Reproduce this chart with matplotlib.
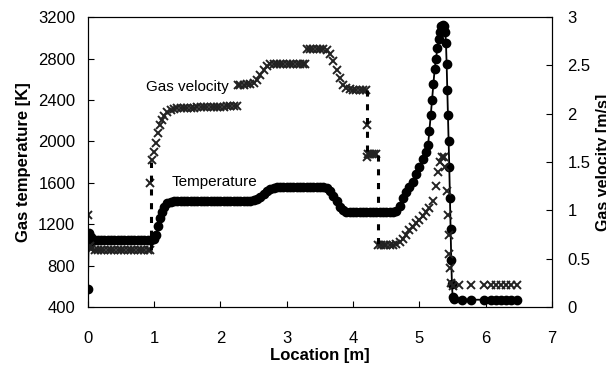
import matplotlib.pyplot as plt

plt.rcParams['font.family'] = ['Liberation Sans', 'DejaVu Sans']

# temperature profile [K] along the reactor
temp_x = [0.00, 0.01, 0.02, 0.04, 0.06, 0.10, 0.15, 0.20, 0.25, 0.30, 0.35, 0.40, 0.45,
          0.50, 0.55, 0.60, 0.65, 0.70, 0.75, 0.80, 0.85, 0.90, 0.95, 1.00, 1.03, 1.06,
          1.09, 1.12, 1.15, 1.20, 1.25, 1.30, 1.35, 1.40, 1.45, 1.50, 1.55, 1.60, 1.65,
          1.70, 1.75, 1.80, 1.85, 1.90, 1.95, 2.00, 2.05, 2.10, 2.15, 2.20, 2.25, 2.30,
          2.35, 2.40, 2.45, 2.50, 2.55, 2.60, 2.65, 2.70, 2.75, 2.80, 2.85, 2.90, 2.95,
          3.00, 3.05, 3.10, 3.15, 3.20, 3.25, 3.30, 3.35, 3.40, 3.45, 3.50, 3.55, 3.60,
          3.65, 3.70, 3.75, 3.80, 3.85, 3.90, 3.95, 4.00, 4.05, 4.10, 4.15, 4.20, 4.25,
          4.30, 4.35, 4.40, 4.45, 4.50, 4.55, 4.60, 4.65, 4.70, 4.75, 4.80, 4.85, 4.90,
          4.95, 5.00, 5.05, 5.10, 5.13, 5.15, 5.17, 5.19, 5.21, 5.23, 5.25, 5.27, 5.29,
          5.31, 5.33, 5.35, 5.37, 5.39, 5.40, 5.41, 5.42, 5.43, 5.44, 5.45, 5.46, 5.47,
          5.48, 5.49, 5.50, 5.52, 5.64, 5.78, 5.97, 6.08, 6.15, 6.23, 6.30, 6.38, 6.47]
temp_y = [574, 1000, 1110, 1080, 1050, 1045, 1045, 1045, 1045, 1045, 1045, 1045, 1045,
          1047, 1047, 1047, 1047, 1047, 1047, 1047, 1047, 1048, 1050, 1055, 1100, 1180,
          1260, 1320, 1370, 1400, 1415, 1420, 1425, 1425, 1425, 1425, 1425, 1425, 1425,
          1425, 1425, 1425, 1425, 1425, 1425, 1425, 1425, 1425, 1425, 1425, 1425, 1425,
          1425, 1425, 1428, 1432, 1440, 1460, 1490, 1520, 1540, 1550, 1555, 1555, 1555,
          1555, 1555, 1555, 1555, 1555, 1555, 1555, 1555, 1555, 1555, 1555, 1555, 1545,
          1520, 1470, 1420, 1370, 1335, 1320, 1315, 1315, 1315, 1315, 1315, 1315, 1315,
          1315, 1315, 1315, 1315, 1315, 1315, 1315, 1330, 1380, 1450, 1510, 1560, 1610,
          1680, 1750, 1830, 1900, 1960, 2100, 2250, 2400, 2550, 2700, 2800, 2900, 2990,
          3060, 3110, 3120, 3110, 3060, 2950, 2750, 2500, 2250, 2000, 1750, 1450, 1150,
          850, 620, 500, 480, 472, 470, 470, 470, 470, 470, 470, 470, 470]

# gas velocity [m/s]
vel_x = [0.00, 0.01, 0.03, 0.05, 0.10, 0.15, 0.20, 0.25, 0.30, 0.35, 0.40, 0.45, 0.50,
         0.55, 0.60, 0.65, 0.70, 0.75, 0.80, 0.85, 0.90, 0.93, 0.94, 0.97, 1.00, 1.03,
         1.06, 1.09, 1.12, 1.15, 1.20, 1.25, 1.30, 1.35, 1.40, 1.45, 1.50, 1.55, 1.60,
         1.65, 1.70, 1.75, 1.80, 1.85, 1.90, 1.95, 2.00, 2.05, 2.10, 2.15, 2.20, 2.25,
         2.27, 2.30, 2.35, 2.40, 2.45, 2.50, 2.55, 2.60, 2.65, 2.70, 2.75, 2.80, 2.85,
         2.90, 2.95, 3.00, 3.05, 3.10, 3.15, 3.20, 3.25, 3.28, 3.30, 3.35, 3.40, 3.45,
         3.50, 3.55, 3.60, 3.65, 3.70, 3.75, 3.80, 3.85, 3.90, 3.95, 4.00, 4.05, 4.10,
         4.15, 4.20, 4.21, 4.21, 4.23, 4.26, 4.29, 4.32, 4.35, 4.38, 4.42, 4.46, 4.50,
         4.55, 4.60, 4.65, 4.70, 4.75, 4.80, 4.85, 4.90, 4.95, 5.00, 5.05, 5.10, 5.15,
         5.20, 5.25, 5.28, 5.31, 5.34, 5.37, 5.39, 5.41, 5.43, 5.44, 5.45, 5.46, 5.48,
         5.50, 5.60, 5.78, 5.97, 6.08, 6.15, 6.23, 6.30, 6.38, 6.47]
vel_y = [0.95, 0.62, 0.63, 0.60, 0.59, 0.59, 0.59, 0.59, 0.59, 0.59, 0.59, 0.59, 0.59,
         0.59, 0.59, 0.59, 0.59, 0.59, 0.59, 0.59, 0.59, 0.59, 1.28, 1.52, 1.60, 1.70,
         1.80, 1.88, 1.94, 1.98, 2.02, 2.04, 2.05, 2.06, 2.06, 2.06, 2.06, 2.06, 2.06,
         2.07, 2.07, 2.07, 2.07, 2.07, 2.07, 2.07, 2.07, 2.07, 2.08, 2.08, 2.08, 2.08,
         2.30, 2.30, 2.30, 2.31, 2.31, 2.32, 2.35, 2.40, 2.45, 2.49, 2.51, 2.52, 2.52,
         2.52, 2.52, 2.52, 2.52, 2.52, 2.52, 2.52, 2.52, 2.52, 2.67, 2.67, 2.67, 2.67,
         2.67, 2.67, 2.66, 2.62, 2.55, 2.45, 2.37, 2.30, 2.27, 2.26, 2.25, 2.25, 2.25,
         2.25, 2.25, 1.88, 1.55, 1.58, 1.58, 1.58, 1.58, 1.58, 0.64, 0.64, 0.64, 0.64,
         0.64, 0.64, 0.65, 0.67, 0.70, 0.75, 0.80, 0.83, 0.87, 0.90, 0.94, 0.98, 1.02,
         1.10, 1.25, 1.40, 1.50, 1.55, 1.55, 1.45, 1.20, 0.95, 0.75, 0.55, 0.40, 0.25,
         0.22, 0.23, 0.23, 0.23, 0.23, 0.23, 0.23, 0.23, 0.23, 0.23]

# dashed jumps of the velocity: (location, from, to)
vel_jumps = [(0.95, 0.59, 1.50), (4.21, 2.25, 1.57), (4.37, 1.57, 0.64)]

fig = plt.figure(figsize=(6.06, 3.65), dpi=100)
ax = fig.add_axes([0.145, 0.159, 0.766, 0.794])
ax2 = ax.twinx()

ax.plot(temp_x, temp_y, '-o', color='black', lw=1.3, ms=6, zorder=3)
ax2.plot(vel_x, vel_y, 'x', color='#222222', ms=6, mew=1.4, zorder=2)
for jx, j0, j1 in vel_jumps:
    ax2.plot([jx, jx], [j0, j1], color='black', lw=2.2, ls=(0, (2, 2.5)))

ax.set_xlim(0, 7)
ax.set_ylim(400, 3200)
ax.set_yticks(range(400, 3201, 400))
ax2.set_ylim(0, 3)
ax2.set_yticks([0, 0.5, 1, 1.5, 2, 2.5, 3])
ax2.set_yticklabels(['0', '0.5', '1', '1.5', '2', '2.5', '3'])

ax.tick_params(direction='in', length=4, labelsize=12)
ax.tick_params(axis='y', pad=9)
ax.tick_params(axis='x', pad=17)
ax2.tick_params(direction='in', length=4, labelsize=12, pad=11)

ax.set_xlabel('Location [m]', fontsize=12, fontweight='bold', labelpad=2)
ax.set_ylabel('Gas temperature [K]', fontsize=12, fontweight='bold', labelpad=5)
ax2.set_ylabel('Gas velocity [m/s]', fontsize=11.5, fontweight='bold', labelpad=4)

ax.text(0.87, 2523, 'Gas velocity', fontsize=11, va='center')
ax.text(1.27, 1606, 'Temperature', fontsize=11, va='center')

fig.savefig('out.png', dpi=100)
